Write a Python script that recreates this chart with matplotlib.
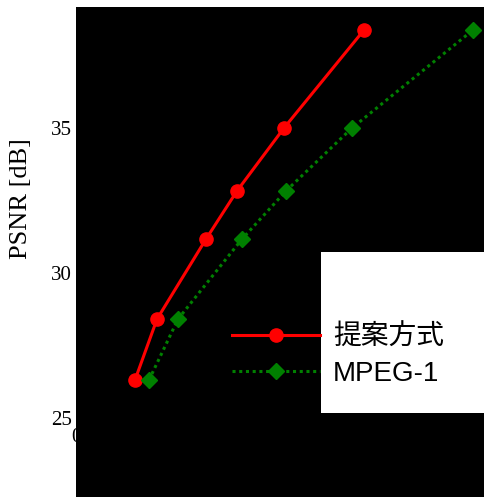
import matplotlib
matplotlib.use("Agg")
import matplotlib.pyplot as plt
from matplotlib.patches import Rectangle

# Data
bitrate_proposed = [0.59, 0.81, 1.30, 1.61, 2.08, 2.88]
psnr_proposed = [26.31, 28.41, 31.17, 32.83, 35.00, 38.38]
bitrate_mpeg1 = [0.73, 1.02, 1.66, 2.10, 2.76, 3.97]
psnr_mpeg1 = [26.31, 28.41, 31.17, 32.83, 35.00, 38.38]
labels = ["提案方式", "MPEG-1"]
yticks = [25, 30, 35]
xticks = [0]

W, H = 485, 497
fig = plt.figure(figsize=(W / 100, H / 100), dpi=100)
ax = fig.add_axes([76 / W, (H - 418) / H, (W - 76) / W, (418 - 7) / H])
ax.set_facecolor("black")
for s in ax.spines.values():
    s.set_visible(False)

ax.plot(bitrate_proposed, psnr_proposed, color="#ff0000", lw=2.2, marker="o",
        ms=9.5, label=labels[0], zorder=2)
ax.plot(bitrate_mpeg1, psnr_mpeg1, color="#008000", lw=2.2, ls=(0, (1, 1.2)),
        marker="D", ms=8.5, label=labels[1], zorder=2)

ax.set_xlim(0, 4.09)
ax.set_ylim(25, 25 + (418 - 7) / 29)
ax.set_yticks(yticks)
ax.set_xticks(xticks)
serif = "Liberation Serif"
ax.set_yticklabels([str(v) for v in yticks], fontfamily=serif, fontsize=15)
ax.set_xticklabels([str(v) for v in xticks], fontfamily=serif, fontsize=15)
ax.tick_params(axis="y", length=0, pad=3)
ax.tick_params(axis="x", length=0, pad=7)
ax.set_ylabel("PSNR [dB]", fontfamily=serif, fontsize=19)
ax.yaxis.set_label_coords(-(76 - 32) / 409, (418 - 199) / 411)

# white box behind legend text
ax.add_patch(Rectangle((321 / W, (H - 413) / H), (W - 321) / W + 0.05, (413 - 252) / H,
                       transform=fig.transFigure, facecolor="white", edgecolor="none",
                       zorder=3, clip_on=False))
leg = ax.legend(loc="upper left", bbox_to_anchor=(232 / W, (H - 325) / H),
                bbox_transform=fig.transFigure, frameon=False, handlelength=3.17,
                handletextpad=0.47, labelspacing=0.35, borderaxespad=0,
                borderpad=0,
                prop={"family": ["Liberation Sans", "Noto Sans CJK JP"], "size": 20})
leg.set_zorder(5)

# black band below the axes covering the lower region
fig.add_artist(Rectangle((76 / W, 0), 1, (H - 418) / H, transform=fig.transFigure,
                         facecolor="black", edgecolor="none", zorder=1))

fig.savefig("out.png", dpi=100)
